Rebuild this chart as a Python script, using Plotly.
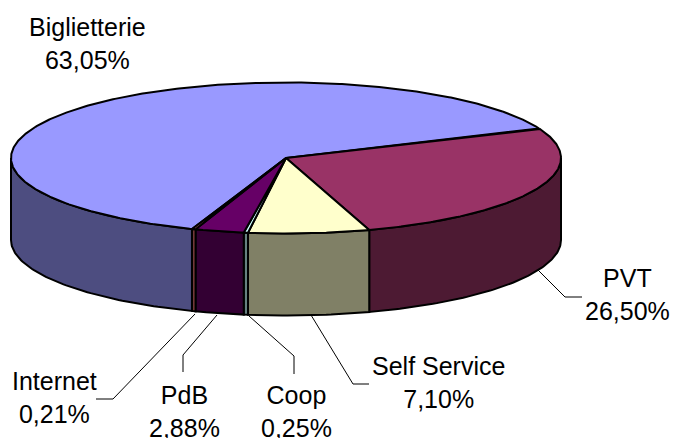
import numpy as np
import plotly.graph_objects as go

categories = ["Biglietterie", "PVT", "Self Service", "Coop", "PdB", "Internet"]
values = [63.05, 26.50, 7.10, 0.25, 2.88, 0.21]
value_labels = ["63,05%", "26,50%", "7,10%", "0,25%", "2,88%", "0,21%"]
top_colors = ["#9999FF", "#993366", "#FFFFCC", "#CCFFFF", "#660066", "#FF8080"]
side_colors = ["#4D4D80", "#4D1A33", "#808066", "#668080", "#330033", "#804040"]

# geometry of the projected disc, in page pixels
CX, CY, RX, RY, DEPTH = 286, 158, 275, 75.5, 82
START = 250.0  # parametric angle where the first slice starts, going clockwise
LINE = dict(color="black", width=2)

# label centre and leader path for each category
label_pos = [(87, 43), (627, 294), (438, 382), (296, 411), (184, 411), (54, 397)]
leaders = [
    None,
    [(538, 270), (565, 297), (582, 297)],
    [(311, 315), (353, 384), (369, 384)],
    [(249, 316), (294, 356), (294, 374)],
    [(217, 315), (183, 355), (183, 372)],
    [(195, 314), (113, 399), (96, 399)],
]


def px(t):
    return CX + RX * np.cos(t), CY - RY * np.sin(t)


fig = go.Figure()
angle = START
arcs = []
for v in values:
    sweep = v / 100 * 360
    arcs.append((angle, angle - sweep))
    angle -= sweep

# side walls: only the front half (sin t < 0) is visible
for (a0, a1), col in zip(arcs, side_colors):
    lo, hi = np.radians(a1), np.radians(a0)
    for k in (-1, 0, 1):
        s = max(lo, np.pi + 2 * np.pi * k)
        e = min(hi, 2 * np.pi + 2 * np.pi * k)
        if e <= s:
            continue
        t = np.linspace(s, e, max(3, int((e - s) * 60)))
        x, y = px(t)
        fig.add_trace(go.Scatter(
            x=np.r_[x, x[::-1], x[0]],
            y=np.r_[y, y[::-1] + DEPTH, y[0]],
            mode="lines", fill="toself", fillcolor=col, line=LINE,
            hoverinfo="skip", showlegend=False))

# top faces
for (a0, a1), col, name, v in zip(arcs, top_colors, categories, values):
    t = np.radians(np.linspace(a0, a1, max(3, int(abs(a0 - a1) * 2))))
    x, y = px(t)
    fig.add_trace(go.Scatter(
        x=np.r_[CX, x, CX], y=np.r_[CY, y, CY],
        mode="lines", fill="toself", fillcolor=col, line=LINE,
        name=name, text=f"{name}: {v}%", hoverinfo="text", showlegend=False))

# leader lines
for path in leaders:
    if path:
        xs, ys = zip(*path)
        fig.add_trace(go.Scatter(
            x=xs, y=ys, mode="lines", line=dict(color="black", width=1),
            hoverinfo="skip", showlegend=False))

# labels
for name, lab, (lx, ly) in zip(categories, value_labels, label_pos):
    fig.add_annotation(x=lx, y=ly, text=f"{name}<br>{lab}", showarrow=False,
                       align="center", xanchor="center", yanchor="middle",
                       font=dict(family="Liberation Sans", size=25, color="black"))

fig.update_layout(
    width=674, height=438, margin=dict(l=0, r=0, t=0, b=0),
    paper_bgcolor="white", plot_bgcolor="white", showlegend=False,
    xaxis=dict(range=[0, 674], visible=False, fixedrange=True),
    yaxis=dict(range=[438, 0], visible=False, fixedrange=True),
)
fig.write_html("out.html", config={"displayModeBar": False},
               post_script="document.body.style.margin='0';document.body.style.overflow='hidden';")
